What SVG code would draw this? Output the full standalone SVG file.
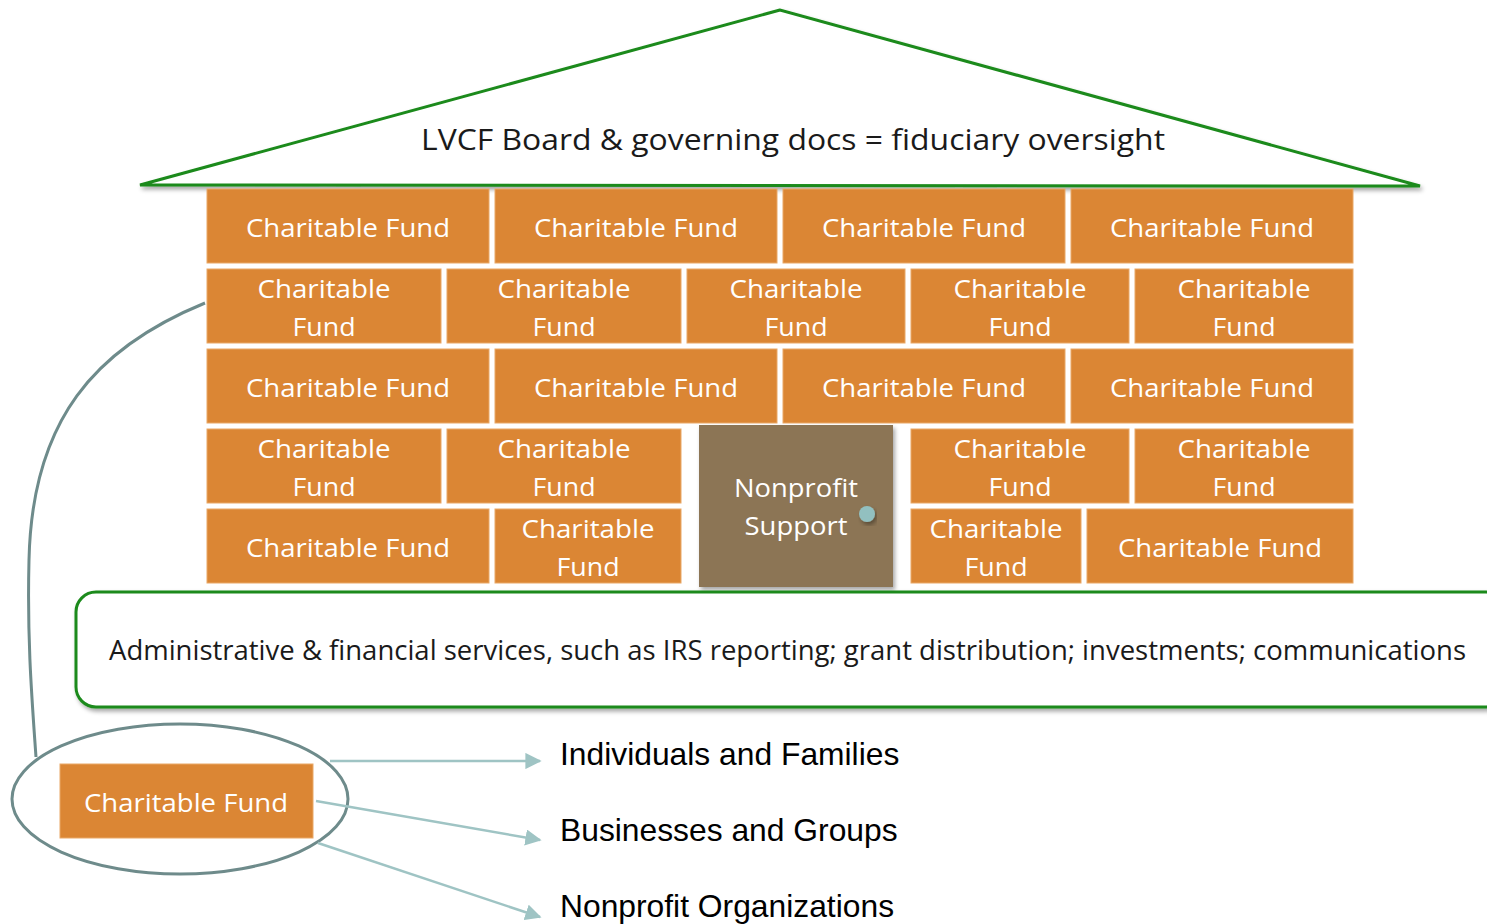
<svg xmlns="http://www.w3.org/2000/svg" width="1487" height="924" viewBox="0 0 1487 924">
<defs>
<filter id="sh" x="-5%" y="-10%" width="115%" height="130%">
<feDropShadow dx="2" dy="3" stdDeviation="2" flood-color="#000" flood-opacity="0.35"/>
</filter>
<marker id="ah" viewBox="0 0 10 10" refX="9" refY="5" markerWidth="6.5" markerHeight="6.5" orient="auto" markerUnits="strokeWidth">
<path d="M0,0 L10,5 L0,10 z" fill="#9fc4c4"/>
</marker>
<style>
.brick{fill:#db8634;stroke:#e9a867;stroke-width:1}
.bt{font-family:"Open Sans","Noto Sans",sans-serif;font-size:26px;fill:#ffffff;text-anchor:middle}
.green{fill:#ffffff;stroke:#1a8a1a;stroke-width:3}
.dark{font-family:"Open Sans","Noto Sans",sans-serif;fill:#1a1a1a}
.lbl{font-family:"Liberation Sans",Arial,sans-serif;font-size:31.8px;fill:#000000}
.conn{fill:none;stroke:#9fc4c4;stroke-width:2.5}
</style>
</defs>

<g id="roof">
<polygon points="780,10 140,185 1420,186" fill="#ffffff" stroke="#1a8a1a" stroke-width="3" stroke-linejoin="miter" filter="url(#sh)"/>
<text class="dark" x="421" y="150" font-size="29" textLength="744" lengthAdjust="spacingAndGlyphs">LVCF Board &amp; governing docs = fiduciary oversight</text>
</g>

<g id="row1">
<g id="b1-1"><rect class="brick" x="207" y="189" width="282" height="74"/><text class="bt" x="348" y="237" textLength="204" lengthAdjust="spacingAndGlyphs">Charitable Fund</text></g>
<g id="b1-2"><rect class="brick" x="495" y="189" width="282" height="74"/><text class="bt" x="636" y="237" textLength="204" lengthAdjust="spacingAndGlyphs">Charitable Fund</text></g>
<g id="b1-3"><rect class="brick" x="783" y="189" width="282" height="74"/><text class="bt" x="924" y="237" textLength="204" lengthAdjust="spacingAndGlyphs">Charitable Fund</text></g>
<g id="b1-4"><rect class="brick" x="1071" y="189" width="282" height="74"/><text class="bt" x="1212" y="237" textLength="204" lengthAdjust="spacingAndGlyphs">Charitable Fund</text></g>
</g>

<g id="row2">
<g id="b2-1"><rect class="brick" x="207" y="269" width="234" height="74"/><text class="bt" x="324" y="298" textLength="133" lengthAdjust="spacingAndGlyphs">Charitable</text><text class="bt" x="324" y="336" textLength="63" lengthAdjust="spacingAndGlyphs">Fund</text></g>
<g id="b2-2"><rect class="brick" x="447" y="269" width="234" height="74"/><text class="bt" x="564" y="298" textLength="133" lengthAdjust="spacingAndGlyphs">Charitable</text><text class="bt" x="564" y="336" textLength="63" lengthAdjust="spacingAndGlyphs">Fund</text></g>
<g id="b2-3"><rect class="brick" x="687" y="269" width="218" height="74"/><text class="bt" x="796" y="298" textLength="133" lengthAdjust="spacingAndGlyphs">Charitable</text><text class="bt" x="796" y="336" textLength="63" lengthAdjust="spacingAndGlyphs">Fund</text></g>
<g id="b2-4"><rect class="brick" x="911" y="269" width="218" height="74"/><text class="bt" x="1020" y="298" textLength="133" lengthAdjust="spacingAndGlyphs">Charitable</text><text class="bt" x="1020" y="336" textLength="63" lengthAdjust="spacingAndGlyphs">Fund</text></g>
<g id="b2-5"><rect class="brick" x="1135" y="269" width="218" height="74"/><text class="bt" x="1244" y="298" textLength="133" lengthAdjust="spacingAndGlyphs">Charitable</text><text class="bt" x="1244" y="336" textLength="63" lengthAdjust="spacingAndGlyphs">Fund</text></g>
</g>

<g id="row3">
<g id="b3-1"><rect class="brick" x="207" y="349" width="282" height="74"/><text class="bt" x="348" y="397" textLength="204" lengthAdjust="spacingAndGlyphs">Charitable Fund</text></g>
<g id="b3-2"><rect class="brick" x="495" y="349" width="282" height="74"/><text class="bt" x="636" y="397" textLength="204" lengthAdjust="spacingAndGlyphs">Charitable Fund</text></g>
<g id="b3-3"><rect class="brick" x="783" y="349" width="282" height="74"/><text class="bt" x="924" y="397" textLength="204" lengthAdjust="spacingAndGlyphs">Charitable Fund</text></g>
<g id="b3-4"><rect class="brick" x="1071" y="349" width="282" height="74"/><text class="bt" x="1212" y="397" textLength="204" lengthAdjust="spacingAndGlyphs">Charitable Fund</text></g>
</g>

<g id="row4">
<g id="b4-1"><rect class="brick" x="207" y="429" width="234" height="74"/><text class="bt" x="324" y="458" textLength="133" lengthAdjust="spacingAndGlyphs">Charitable</text><text class="bt" x="324" y="496" textLength="63" lengthAdjust="spacingAndGlyphs">Fund</text></g>
<g id="b4-2"><rect class="brick" x="447" y="429" width="234" height="74"/><text class="bt" x="564" y="458" textLength="133" lengthAdjust="spacingAndGlyphs">Charitable</text><text class="bt" x="564" y="496" textLength="63" lengthAdjust="spacingAndGlyphs">Fund</text></g>
<g id="b4-4"><rect class="brick" x="911" y="429" width="218" height="74"/><text class="bt" x="1020" y="458" textLength="133" lengthAdjust="spacingAndGlyphs">Charitable</text><text class="bt" x="1020" y="496" textLength="63" lengthAdjust="spacingAndGlyphs">Fund</text></g>
<g id="b4-5"><rect class="brick" x="1135" y="429" width="218" height="74"/><text class="bt" x="1244" y="458" textLength="133" lengthAdjust="spacingAndGlyphs">Charitable</text><text class="bt" x="1244" y="496" textLength="63" lengthAdjust="spacingAndGlyphs">Fund</text></g>
</g>

<g id="row5">
<g id="b5-1"><rect class="brick" x="207" y="509" width="282" height="74"/><text class="bt" x="348" y="557" textLength="204" lengthAdjust="spacingAndGlyphs">Charitable Fund</text></g>
<g id="b5-2"><rect class="brick" x="495" y="509" width="186" height="74"/><text class="bt" x="588" y="538" textLength="133" lengthAdjust="spacingAndGlyphs">Charitable</text><text class="bt" x="588" y="576" textLength="63" lengthAdjust="spacingAndGlyphs">Fund</text></g>
<g id="b5-3"><rect class="brick" x="911" y="509" width="170" height="74"/><text class="bt" x="996" y="538" textLength="133" lengthAdjust="spacingAndGlyphs">Charitable</text><text class="bt" x="996" y="576" textLength="63" lengthAdjust="spacingAndGlyphs">Fund</text></g>
<g id="b5-4"><rect class="brick" x="1087" y="509" width="266" height="74"/><text class="bt" x="1220" y="557" textLength="204" lengthAdjust="spacingAndGlyphs">Charitable Fund</text></g>
</g>

<g id="nonprofit-support">
<rect x="699" y="425" width="194" height="162" fill="#8c7555" filter="url(#sh)"/>
<text class="bt" x="796" y="497" textLength="124" lengthAdjust="spacingAndGlyphs">Nonprofit</text>
<text class="bt" x="796" y="535" textLength="103" lengthAdjust="spacingAndGlyphs">Support</text>
<circle cx="867" cy="514" r="8" fill="#92c0c0" filter="url(#sh)"/>
</g>

<g id="admin">
<rect class="green" x="76" y="592" width="1430" height="115" rx="20" filter="url(#sh)"/>
<text class="dark" x="109" y="660" font-size="27" textLength="1357" lengthAdjust="spacingAndGlyphs">Administrative &amp; financial services, such as IRS reporting; grant distribution; investments; communications</text>
</g>

<g id="focus">
<rect x="60" y="764" width="253" height="74" fill="#db8634" stroke="#e9a867" stroke-width="1"/>
<text class="bt" x="186" y="812" textLength="204" lengthAdjust="spacingAndGlyphs">Charitable Fund</text>
<ellipse cx="180" cy="799" rx="168" ry="75" fill="none" stroke="#6e8b8b" stroke-width="3"/>
</g>

<g id="labels">
<text class="lbl" x="560" y="765">Individuals and Families</text>
<text class="lbl" x="560" y="841">Businesses and Groups</text>
<text class="lbl" x="560" y="917">Nonprofit Organizations</text>
</g>

<g id="connectors">
<path d="M205,303 C95,348 32,420 29,560 C27,640 32,700 36,757" fill="none" stroke="#6e8b8b" stroke-width="3"/>
<line class="conn" x1="330" y1="761" x2="540" y2="761" marker-end="url(#ah)"/>
<line class="conn" x1="316" y1="801" x2="540" y2="840" marker-end="url(#ah)"/>
<line class="conn" x1="318" y1="843" x2="540" y2="917" marker-end="url(#ah)"/>
</g>
</svg>
